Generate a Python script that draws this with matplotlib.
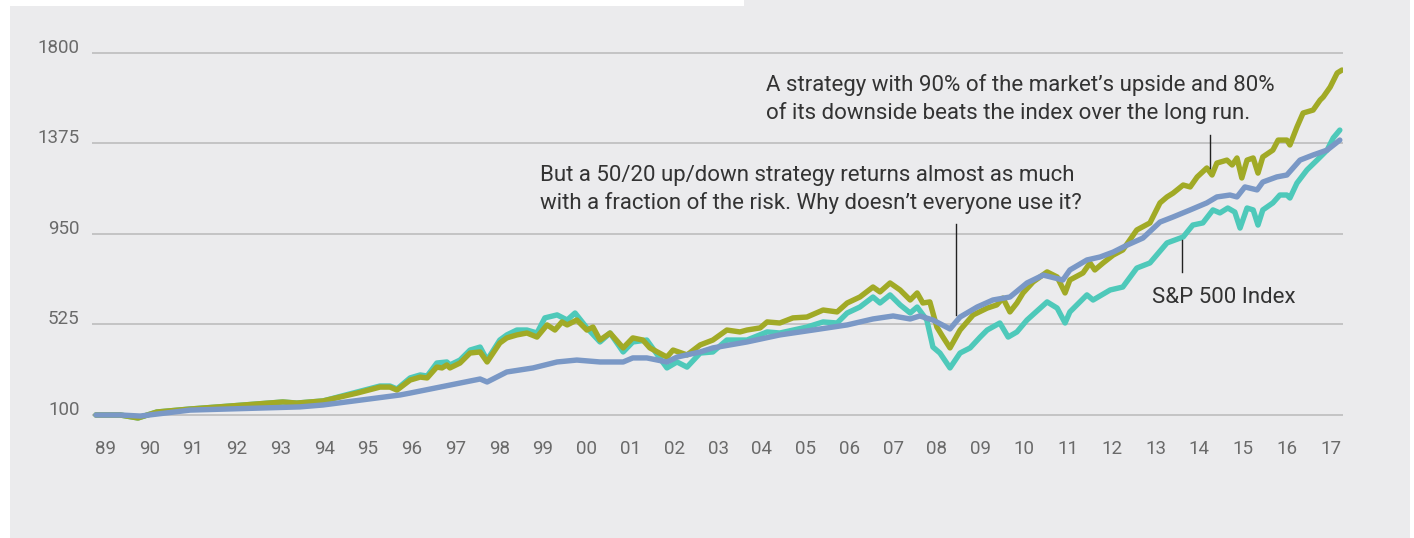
import matplotlib.pyplot as plt
from matplotlib.patches import Rectangle

# Colours
olive = '#A1AA26'
teal = '#4EC9BA'
blue = '#7A98C6'
bg = '#EBEBED'
grid_col = '#BDBDBD'
text_col = '#333333'
tick_col = '#6A6A6A'

# S&P 500 index (growth of 100)
sp_years = [1989.00, 1989.55, 1989.96, 1990.39, 1991.15, 1992.06, 1993.27, 1993.59, 1994.19, 1994.97,
            1995.49, 1995.72, 1995.88, 1996.18, 1996.41, 1996.57, 1996.79, 1997.02, 1997.09, 1997.32,
            1997.55, 1997.78, 1997.94, 1998.23, 1998.39, 1998.62, 1998.85, 1999.08, 1999.26, 1999.54,
            1999.77, 1999.95, 2000.22, 2000.52, 2000.75, 2001.05, 2001.27, 2001.59, 2002.05, 2002.28,
            2002.51, 2002.81, 2003.10, 2003.42, 2003.88, 2004.34, 2004.63, 2005.25, 2005.62, 2005.94,
            2006.17, 2006.46, 2006.76, 2006.92, 2007.15, 2007.38, 2007.61, 2007.77, 2007.99, 2008.13,
            2008.29, 2008.52, 2008.75, 2008.98, 2009.21, 2009.37, 2009.66, 2009.85, 2010.05, 2010.28,
            2010.74, 2010.97, 2011.15, 2011.26, 2011.65, 2011.79, 2012.18, 2012.47, 2012.79, 2013.09,
            2013.48, 2013.85, 2014.07, 2014.30, 2014.53, 2014.69, 2014.87, 2015.03, 2015.15, 2015.31,
            2015.45, 2015.56, 2015.67, 2015.90, 2016.06, 2016.22, 2016.29, 2016.45, 2016.68, 2016.91,
            2017.14, 2017.28, 2017.43]
sp_vals = [100, 100, 86, 114, 128, 142, 161, 156, 166, 208,
           236, 236, 222, 274, 288, 283, 344, 349, 335, 358,
           405, 419, 358, 452, 476, 499, 499, 485, 556, 570,
           546, 579, 509, 443, 485, 396, 443, 452, 321, 349,
           325, 391, 396, 452, 452, 490, 485, 513, 537, 532,
           579, 607, 654, 626, 664, 617, 579, 607, 546, 419,
           391, 321, 391, 415, 466, 499, 532, 466, 490, 546,
           631, 602, 532, 584, 664, 640, 687, 701, 790, 814,
           908, 936, 992, 1002, 1063, 1049, 1072, 1053, 978, 1072,
           1063, 992, 1063, 1096, 1133, 1133, 1119, 1189, 1251, 1297,
           1344, 1401, 1438]

# 90% upside / 80% downside strategy
s90_years = [1989.00, 1989.55, 1989.96, 1990.39, 1991.15, 1992.06, 1993.27, 1993.59, 1994.19, 1994.97,
             1995.49, 1995.72, 1995.88, 1996.18, 1996.41, 1996.57, 1996.79, 1996.91, 1997.02, 1997.09,
             1997.32, 1997.55, 1997.78, 1997.94, 1998.23, 1998.39, 1998.62, 1998.85, 1999.08, 1999.31,
             1999.49, 1999.65, 1999.77, 1999.99, 2000.22, 2000.36, 2000.52, 2000.75, 2001.05, 2001.27,
             2001.50, 2001.66, 2002.05, 2002.19, 2002.51, 2002.81, 2003.10, 2003.42, 2003.72, 2003.88,
             2004.18, 2004.34, 2004.63, 2004.93, 2005.25, 2005.62, 2005.94, 2006.17, 2006.46, 2006.76,
             2006.92, 2007.15, 2007.38, 2007.61, 2007.77, 2007.90, 2008.06, 2008.22, 2008.36, 2008.52,
             2008.75, 2009.05, 2009.37, 2009.59, 2009.73, 2009.89, 2010.05, 2010.19, 2010.42, 2010.74,
             2010.97, 2011.15, 2011.26, 2011.56, 2011.72, 2011.83, 2012.02, 2012.25, 2012.47, 2012.79,
             2013.09, 2013.32, 2013.48, 2013.62, 2013.85, 2014.01, 2014.17, 2014.39, 2014.51, 2014.62,
             2014.85, 2014.97, 2015.08, 2015.19, 2015.31, 2015.45, 2015.56, 2015.67, 2015.90, 2016.02,
             2016.22, 2016.29, 2016.45, 2016.59, 2016.82, 2016.98, 2017.05, 2017.21, 2017.37, 2017.48]
s90_vals = [100, 100, 86, 114, 128, 142, 161, 156, 166, 203,
            231, 231, 217, 264, 278, 274, 325, 321, 335, 321,
            344, 391, 396, 349, 438, 462, 476, 485, 466, 523,
            499, 537, 523, 546, 499, 513, 452, 485, 415, 462,
            452, 415, 372, 405, 382, 429, 452, 499, 490, 499,
            509, 537, 532, 556, 560, 593, 584, 626, 654, 701,
            678, 720, 687, 640, 673, 626, 631, 513, 466, 415,
            499, 570, 602, 617, 649, 584, 626, 673, 725, 772,
            748, 673, 734, 767, 814, 781, 814, 851, 875, 969,
            1002, 1096, 1124, 1142, 1180, 1171, 1218, 1260, 1227, 1283,
            1297, 1274, 1307, 1213, 1297, 1307, 1236, 1312, 1344, 1391,
            1391, 1368, 1452, 1518, 1532, 1579, 1593, 1640, 1706, 1720]

# 50% upside / 20% downside strategy
s50_years = [1989.00, 1989.55, 1990.01, 1991.15, 1993.66, 1994.19, 1995.95, 1996.18, 1996.86, 1997.78,
             1997.94, 1998.39, 1998.99, 1999.54, 1999.99, 2000.52, 2001.05, 2001.27, 2001.59, 2002.05,
             2002.28, 2002.81, 2003.10, 2003.88, 2004.63, 2005.39, 2006.17, 2006.76, 2007.22, 2007.61,
             2007.83, 2008.13, 2008.52, 2008.75, 2009.14, 2009.50, 2009.89, 2010.28, 2010.65, 2011.10,
             2011.26, 2011.65, 2011.95, 2012.25, 2012.57, 2012.93, 2013.32, 2013.62, 2014.01, 2014.39,
             2014.62, 2014.92, 2015.08, 2015.26, 2015.54, 2015.67, 2015.99, 2016.22, 2016.52, 2016.82,
             2017.14, 2017.43]
s50_vals = [100, 100, 95, 123, 138, 147, 194, 203, 231, 269,
            255, 302, 321, 349, 358, 349, 349, 368, 368, 349,
            372, 396, 415, 443, 476, 499, 523, 551, 565, 551,
            565, 546, 504, 560, 607, 640, 654, 720, 757, 734,
            781, 828, 842, 865, 898, 931, 1006, 1030, 1063, 1096,
            1124, 1133, 1124, 1171, 1157, 1194, 1218, 1227, 1297, 1321,
            1344, 1391]

y_ticks = [100, 525, 950, 1375, 1800]
x_labels = ['89', '90', '91', '92', '93', '94', '95', '96', '97', '98', '99', '00', '01', '02',
            '03', '04', '05', '06', '07', '08', '09', '10', '11', '12', '13', '14', '15', '16', '17']
first_year = 1989

plt.rcParams['font.family'] = ['Roboto', 'DejaVu Sans']

fig = plt.figure(figsize=(14.14, 5.38), dpi=100, facecolor='white')
# grey panel behind the chart
fig.patches.append(Rectangle((10 / 1414, 0), 1400 / 1414, 1 - 6 / 538, transform=fig.transFigure,
                             facecolor=bg, edgecolor='none', zorder=-10))
fig.patches.append(Rectangle((744 / 1414, 1 - 6 / 538), 666 / 1414, 6 / 538, transform=fig.transFigure,
                             facecolor=bg, edgecolor='none', zorder=-10))

ax = fig.add_axes([92 / 1414, 1 - 425 / 538, 1251 / 1414, 385 / 538])
ax.set_facecolor('none')

lw = 3.9
ax.plot(sp_years, sp_vals, color=teal, lw=lw, solid_joinstyle='round', solid_capstyle='round', zorder=3)
ax.plot(s90_years, s90_vals, color=olive, lw=lw, solid_joinstyle='round', solid_capstyle='round', zorder=4)
ax.plot(s50_years, s50_vals, color=blue, lw=lw, solid_joinstyle='round', solid_capstyle='round', zorder=5)

ax.set_xlim(1988.909, 2017.503)
ax.set_ylim(53, 1861)

ax.set_yticks(y_ticks)
ax.set_yticklabels([str(v) for v in y_ticks])
for lab in ax.get_yticklabels():
    lab.set_va('baseline')
ax.set_xticks([first_year + i + 0.22 for i in range(len(x_labels))])
ax.set_xticklabels(x_labels)

ax.tick_params(axis='both', length=0, labelsize=13.5, labelcolor=tick_col)
ax.tick_params(axis='y', pad=9)
ax.tick_params(axis='x', pad=11)
ax.grid(axis='y', color=grid_col, lw=1.2)
ax.set_axisbelow(True)
for s in ax.spines.values():
    s.set_visible(False)

# annotations
ax.text(2004.31, 1584, "A strategy with 90% of the market\u2019s upside and 80%\nof its downside beats the index over the long run.",
        fontsize=16, color=text_col, va='center', ha='left', linespacing=1.3)
ax.plot([2014.46, 2014.46], [1415, 1260], color='#222222', lw=1.0, zorder=6)

ax.text(1999.15, 1159, "But a 50/20 up/down strategy returns almost as much\nwith a fraction of the risk. Why doesn\u2019t everyone use it?",
        fontsize=16, color=text_col, va='center', ha='left', linespacing=1.3)
ax.plot([2008.66, 2008.66], [997, 570], color='#222222', lw=1.0, zorder=6)

ax.text(2013.14, 654, "S&P 500 Index", fontsize=16, color=text_col, va='center', ha='left')
ax.plot([2013.82, 2013.82], [922, 772], color='#222222', lw=1.0, zorder=6)

plt.savefig('out.png', dpi=100, facecolor=fig.get_facecolor())
